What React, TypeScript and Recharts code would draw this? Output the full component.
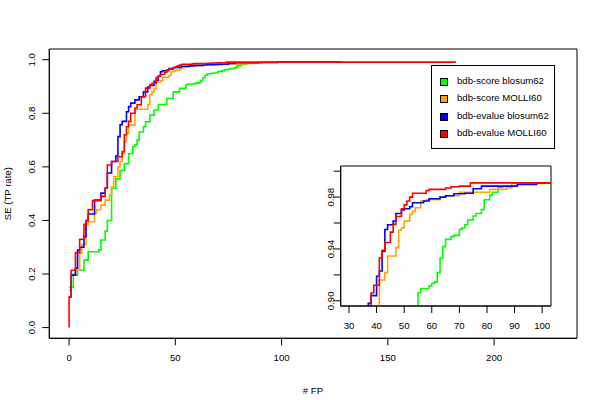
import React from "react"
import { LineChart, Line, XAxis, YAxis, ReferenceArea, Legend } from "recharts"

// step curves: FP count where the curve steps, and the SE (TP rate) it steps up to
const greenFp = [0, 2, 4, 7, 9, 14, 15, 17, 18, 20, 22, 24, 26, 28, 30, 31, 32, 33, 35, 36, 38, 40, 42, 46, 49, 52, 55, 56, 59, 60, 61, 62, 63, 64, 65, 67, 68, 70, 71, 72, 73, 75, 76, 78, 79, 81, 82, 84, 86]
const greenSe = [0.15, 0.196, 0.214, 0.252, 0.283, 0.29, 0.327, 0.36, 0.4, 0.52, 0.555, 0.587, 0.612, 0.65, 0.675, 0.682, 0.7, 0.73, 0.75, 0.768, 0.793, 0.812, 0.833, 0.855, 0.88, 0.893, 0.9064, 0.9095, 0.9115, 0.9136, 0.9146, 0.9218, 0.9328, 0.9418, 0.9474, 0.9495, 0.9505, 0.9551, 0.9564, 0.9587, 0.9623, 0.9654, 0.9674, 0.9705, 0.978, 0.9815, 0.9838, 0.9874, 0.9874]

const orangeFp = [0, 1, 3, 5, 6, 8, 9, 12, 13, 15, 17, 19, 20, 21, 23, 24, 25, 26, 27, 28, 31, 37, 38, 39, 40, 41, 43, 44, 47, 48, 49, 50, 52, 53, 54, 56, 58, 63, 65, 70, 81, 87, 89, 103]
const orangeSe = [0.139, 0.2, 0.214, 0.278, 0.31, 0.383, 0.395, 0.427, 0.44, 0.457, 0.476, 0.495, 0.526, 0.563, 0.6, 0.62, 0.65, 0.694, 0.725, 0.756, 0.815, 0.832, 0.869, 0.88, 0.892, 0.916, 0.9218, 0.9346, 0.941, 0.9544, 0.9564, 0.9615, 0.9667, 0.969, 0.9718, 0.9769, 0.978, 0.98, 0.981, 0.9838, 0.986, 0.987, 0.9905, 0.9905]

const blueFp = [0, 1, 3, 4, 5, 7, 8, 9, 12, 15, 17, 18, 20, 22, 23, 24, 25, 27, 28, 29, 31, 33, 35, 37, 38, 40, 41, 42, 43, 44, 46, 47, 49, 50, 52, 53, 57, 59, 63, 65, 68, 72, 75, 78, 91, 98, 128]
const blueSe = [0.115, 0.196, 0.222, 0.289, 0.3, 0.339, 0.4, 0.424, 0.476, 0.502, 0.52, 0.577, 0.62, 0.64, 0.713, 0.757, 0.77, 0.806, 0.825, 0.838, 0.85, 0.862, 0.88, 0.898, 0.904, 0.919, 0.923, 0.938, 0.955, 0.9587, 0.9615, 0.9674, 0.97, 0.971, 0.9726, 0.9756, 0.977, 0.9787, 0.98, 0.981, 0.9826, 0.983, 0.9864, 0.9885, 0.9897, 0.991, 0.991]

const redFp = [0, 0, 1, 3, 5, 7, 8, 9, 11, 15, 17, 18, 20, 23, 25, 26, 27, 28, 29, 31, 32, 34, 36, 38, 39, 41, 42, 43, 45, 46, 47, 49, 50, 51, 52, 53, 58, 59, 65, 67, 70, 74, 182]
const redSe = [0, 0.114, 0.214, 0.28, 0.33, 0.386, 0.4, 0.44, 0.474, 0.49, 0.52, 0.607, 0.62, 0.638, 0.657, 0.72, 0.75, 0.77, 0.8, 0.82, 0.832, 0.862, 0.894, 0.906, 0.912, 0.933, 0.939, 0.945, 0.953, 0.959, 0.965, 0.971, 0.974, 0.977, 0.98, 0.983, 0.985, 0.986, 0.987, 0.988, 0.9885, 0.991, 0.991]

const seriesNames = ["bdb-score blosum62", "bdb-score MOLLI60", "bdb-evalue blosum62", "bdb-evalue MOLLI60"]
const seriesColors = ["#00ff00", "#ffa500", "#0000ff", "#ff0000"]

const mainXTicks = [0, 50, 100, 150, 200]
const mainYTicks = [0, 0.2, 0.4, 0.6, 0.8, 1]
const insetXTicks = [30, 40, 50, 60, 70, 80, 90, 100]
const insetYTicks = [0.9, 0.92, 0.94, 0.96, 0.98, 1]
const insetYLabels = [0.9, 0.94, 0.98]

const toPoints = (fp: number[], se: number[]) => fp.map((x, i) => ({ fp: x, se: se[i] }))

const series = [
  toPoints(greenFp, greenSe),
  toPoints(orangeFp, orangeSe),
  toPoints(blueFp, blueSe),
  toPoints(redFp, redSe),
]

const FONT = "'Liberation Sans', Arial, Helvetica, sans-serif"
const FS = 9.6

const XTick = (props: any) => {
  const { x, y, payload } = props
  return (
    <text x={x} y={y + 15.7} textAnchor="middle" fontSize={FS} fontFamily={FONT} fill="#000">
      {payload.value}
    </text>
  )
}

const MainYTick = (props: any) => {
  const { x, y, payload } = props
  const bx = x - 7.3
  return (
    <text x={bx} y={y} transform={`rotate(-90, ${bx}, ${y})`} textAnchor="middle" fontSize={FS} fontFamily={FONT} fill="#000">
      {payload.value.toFixed(1)}
    </text>
  )
}

const InsetYTick = (props: any) => {
  const { x, y, payload } = props
  if (!insetYLabels.some((v) => Math.abs(v - payload.value) < 1e-6)) return <g />
  const bx = x + 0.5
  return (
    <text x={bx} y={y} transform={`rotate(-90, ${bx}, ${y})`} textAnchor="middle" fontSize={FS} fontFamily={FONT} fill="#000">
      {payload.value.toFixed(2)}
    </text>
  )
}

const LegendBox = () => (
  <div
    style={{
      position: "relative",
      width: 124,
      height: 84,
      border: "1px solid #000",
      boxSizing: "border-box",
      background: "#fff",
      fontFamily: FONT,
      fontSize: FS,
      color: "#000",
    }}
  >
    {seriesNames.map((name, i) => (
      <div key={name} style={{ position: "absolute", left: 0, top: 15 + i * 17.3 - 6, height: 12, width: 122 }}>
        <span
          style={{
            position: "absolute",
            left: 8,
            top: 3,
            width: 6,
            height: 6,
            background: seriesColors[i],
            border: "1px solid #000",
          }}
        />
        <span style={{ position: "absolute", left: 25, top: 0, lineHeight: "12px", whiteSpace: "nowrap" }}>{name}</span>
      </div>
    ))}
  </div>
)

export default function App() {
  return (
    <div style={{ position: "absolute", left: 0, top: 0, width: 600, height: 400, background: "#fff" }}>
      <LineChart width={600} height={400} margin={{ top: 49, right: 23, bottom: 0, left: 0 }}>
        <XAxis
          type="number"
          dataKey="fp"
          domain={[-9.3, 239]}
          ticks={mainXTicks}
          allowDataOverflow
          height={61.7}
          tickSize={7}
          tickMargin={0}
          tick={<XTick />}
          stroke="#000"
        />
        <YAxis
          type="number"
          dataKey="se"
          domain={[-0.04, 1.04]}
          ticks={mainYTicks}
          allowDataOverflow
          width={49.3}
          tickSize={7}
          tickMargin={0}
          tick={<MainYTick />}
          stroke="#000"
        />
        <ReferenceArea x1={-9.3} x2={239} y1={-0.04} y2={1.04} fill="none" stroke="#000" strokeWidth={1} />
        {series.map((d, i) => (
          <Line
            key={seriesNames[i]}
            data={d}
            dataKey="se"
            name={seriesNames[i]}
            type="stepAfter"
            stroke={seriesColors[i]}
            strokeWidth={1.6}
            dot={false}
            activeDot={false}
            isAnimationActive={false}
          />
        ))}
        <Legend
          layout="vertical"
          align="center"
          verticalAlign="middle"
          wrapperStyle={{ left: 431, top: 65, width: 124, height: 84 }}
          content={() => <LegendBox />}
        />
      </LineChart>
      <div style={{ position: "absolute", left: 300, top: 150, width: 260, height: 190 }}>
        <LineChart width={260} height={190} margin={{ top: 16, right: 9, bottom: 0, left: 0 }}>
          <XAxis
            type="number"
            dataKey="fp"
            domain={[27, 103.2]}
            ticks={insetXTicks}
            allowDataOverflow
            height={34}
            tickSize={7}
            tickMargin={0}
            tick={<XTick />}
            stroke="#000"
          />
          <YAxis
            type="number"
            dataKey="se"
            domain={[0.896, 1.004]}
            ticks={insetYTicks}
            allowDataOverflow
            width={40.7}
            tickSize={7}
            tickMargin={0}
            tick={<InsetYTick />}
            stroke="#000"
          />
          <ReferenceArea x1={27} x2={103.2} y1={0.896} y2={1.004} fill="none" stroke="#000" strokeWidth={1} />
          {series.map((d, i) => (
            <Line
              key={seriesNames[i]}
              data={d}
              dataKey="se"
              type="stepAfter"
              stroke={seriesColors[i]}
              strokeWidth={1.6}
              dot={false}
              activeDot={false}
              isAnimationActive={false}
            />
          ))}
        </LineChart>
      </div>
      <svg
        width={600}
        height={400}
        style={{ position: "absolute", left: 0, top: 0, pointerEvents: "none" }}
        fontFamily={FONT}
        fontSize={FS}
      >
        <text x={313} y={393.5} textAnchor="middle" fill="#000">
          # FP
        </text>
        <text x={11.5} y={193.7} transform="rotate(-90, 11.5, 193.7)" textAnchor="middle" fill="#000">
          SE (TP rate)
        </text>
      </svg>
    </div>
  )
}
